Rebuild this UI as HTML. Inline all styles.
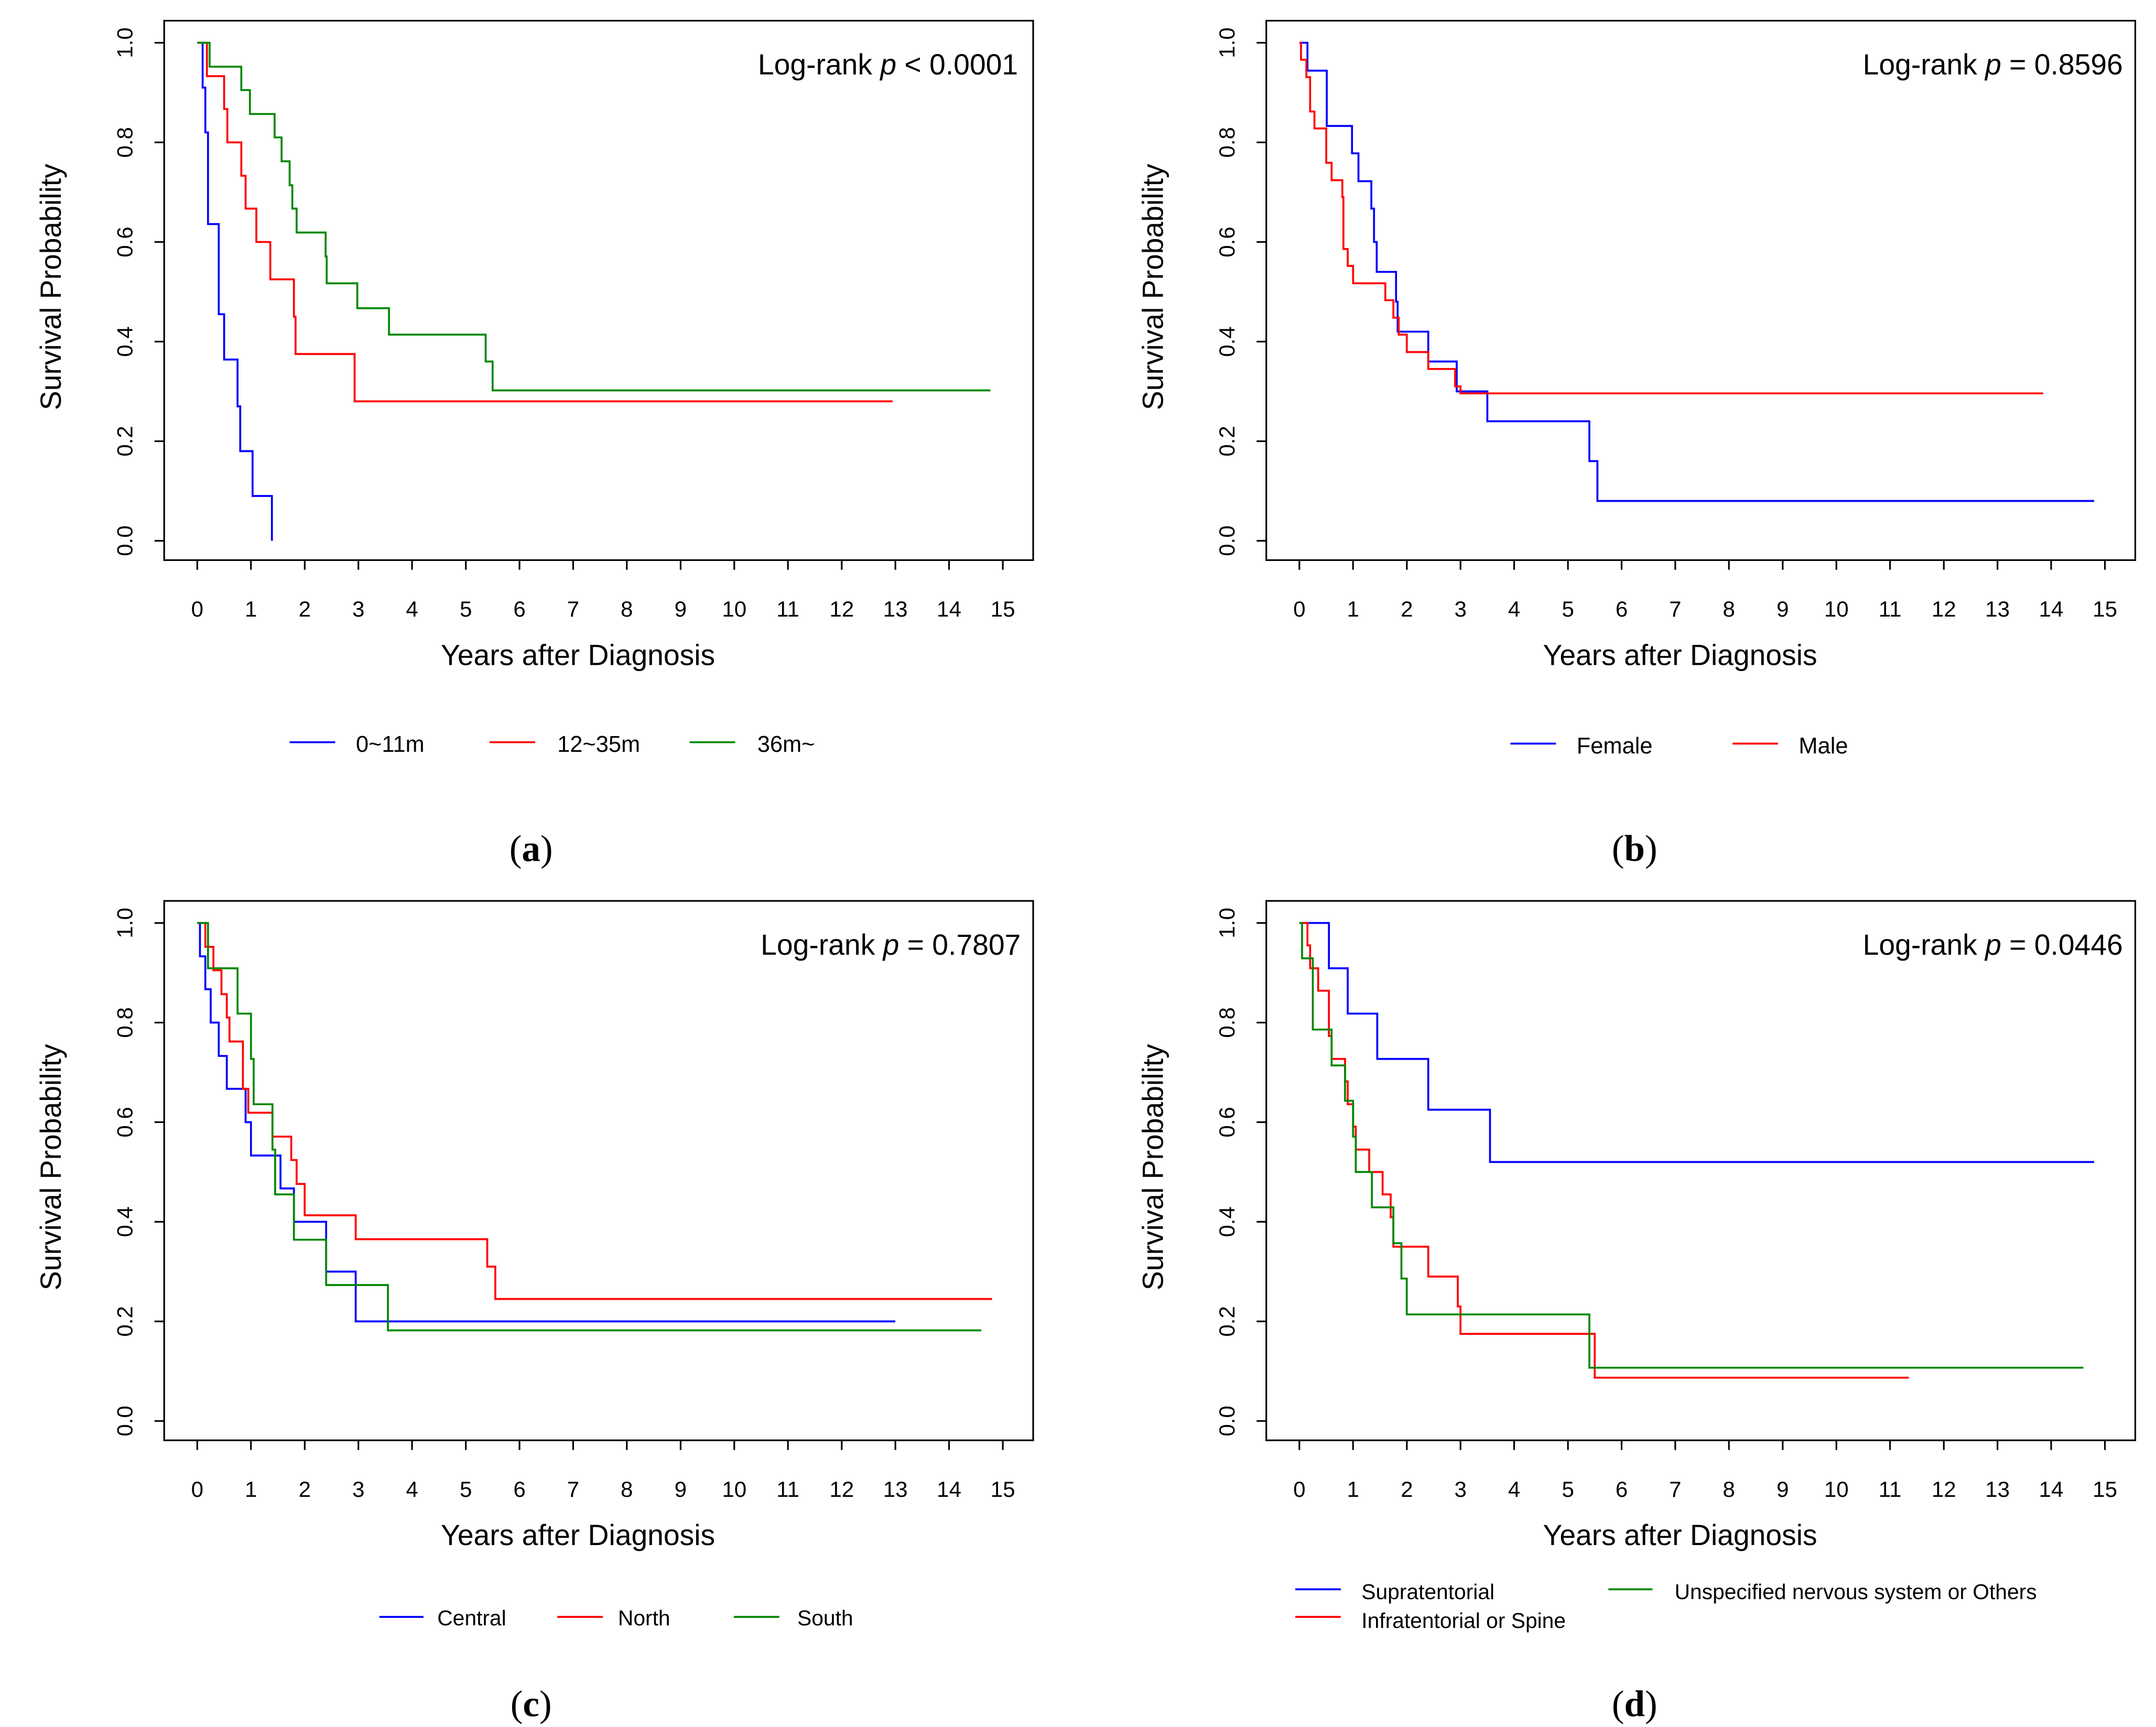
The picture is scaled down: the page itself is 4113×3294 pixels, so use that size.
<!DOCTYPE html>
<html><head><meta charset="utf-8"><style>
html,body{margin:0;padding:0;background:#fff}
svg{display:block}
text{font-family:"Liberation Sans",Arial,sans-serif;fill:#000}
.t{font-size:16px}
.ax{font-size:21px}
.lg{font-size:16.5px}
.lab{font-family:"Liberation Serif",serif;font-size:27px}
.c path{fill:none;stroke-width:3.7;vector-effect:non-scaling-stroke}
</style></head><body>
<svg width="4113" height="3294" viewBox="0 0 1563 1251.8" xmlns="http://www.w3.org/2000/svg">
<defs>
<g id="frame">
<rect x="119" y="15" width="630" height="391" fill="none" stroke="#000" stroke-width="1.2"/>
<path d="M143 406v7M181.9 406v7M220.9 406v7M259.8 406v7M298.7 406v7M337.7 406v7M376.6 406v7M415.5 406v7M454.4 406v7M493.4 406v7M532.3 406v7M571.2 406v7M610.2 406v7M649.1 406v7M688 406v7M727 406v7M119 392h-7M119 319.8h-7M119 247.6h-7M119 175.4h-7M119 103.2h-7M119 31h-7" stroke="#000" stroke-width="1.2"/>
<g class="t" text-anchor="middle">
<text x="143" y="447">0</text><text x="181.9" y="447">1</text><text x="220.9" y="447">2</text><text x="259.8" y="447">3</text><text x="298.7" y="447">4</text><text x="337.7" y="447">5</text><text x="376.6" y="447">6</text><text x="415.5" y="447">7</text><text x="454.4" y="447">8</text><text x="493.4" y="447">9</text><text x="532.3" y="447">10</text><text x="571.2" y="447">11</text><text x="610.2" y="447">12</text><text x="649.1" y="447">13</text><text x="688" y="447">14</text><text x="727" y="447">15</text>
<text transform="translate(96 392) rotate(-90)">0.0</text>
<text transform="translate(96 319.8) rotate(-90)">0.2</text>
<text transform="translate(96 247.6) rotate(-90)">0.4</text>
<text transform="translate(96 175.4) rotate(-90)">0.6</text>
<text transform="translate(96 103.2) rotate(-90)">0.8</text>
<text transform="translate(96 31) rotate(-90)">1.0</text>
</g>
<text class="ax" x="419" y="482" text-anchor="middle">Years after Diagnosis</text>
<text class="ax" transform="translate(44 208) rotate(-90)" text-anchor="middle">Survival Probability</text>
</g>
</defs>

<!-- (a) -->
<g>
<use href="#frame"/>
<text class="ax" x="738" y="54" text-anchor="end">Log-rank <tspan font-style="italic">p</tspan> &lt; 0.0001</text>
<g class="c" transform="translate(143 392) scale(38.93 -361)">
<path stroke="#00f" d="M0 1H0.1V0.91H0.15V0.82H0.2V0.636H0.4V0.455H0.5V0.364H0.75V0.27H0.8V0.18H1.03V0.09H1.39V0"/>
<path stroke="#f00" d="M0 1H0.18V0.933H0.5V0.867H0.56V0.8H0.82V0.733H0.9V0.667H1.1V0.6H1.36V0.525H1.8V0.45H1.83V0.375H2.93V0.28H12.95"/>
<path stroke="#080" d="M0 1H0.23V0.952H0.82V0.905H0.98V0.857H1.44V0.81H1.57V0.762H1.72V0.714H1.77V0.667H1.85V0.619H2.39V0.571H2.41V0.517H2.98V0.467H3.57V0.414H5.37V0.36H5.5V0.302H14.77"/>
</g>
<path d="M210 538h33" stroke="#00f" stroke-width="1.4"/><path d="M355 538h33" stroke="#f00" stroke-width="1.4"/><path d="M500 538h33" stroke="#080" stroke-width="1.4"/>
<text class="lg" x="258" y="545">0~11m</text><text class="lg" x="404" y="545">12~35m</text><text class="lg" x="549" y="545">36m~</text>
<text class="lab" x="385" y="624" text-anchor="middle">(<tspan font-weight="bold">a</tspan>)</text>
</g>

<!-- (b) -->
<g transform="translate(799 0)">
<use href="#frame"/>
<text class="ax" x="740" y="54" text-anchor="end">Log-rank <tspan font-style="italic">p</tspan> = 0.8596</text>
<g class="c" transform="translate(143 392) scale(38.93 -361)">
<path stroke="#00f" d="M0 1H0.15V0.944H0.51V0.833H0.98V0.778H1.1V0.722H1.34V0.667H1.39V0.6H1.44V0.54H1.8V0.48H1.83V0.42H2.4V0.36H2.93V0.30H3.5V0.24H5.4V0.16H5.55V0.08H14.8"/>
<path stroke="#f00" d="M0 1H0.03V0.966H0.13V0.931H0.2V0.862H0.28V0.828H0.5V0.759H0.6V0.724H0.8V0.69H0.82V0.586H0.9V0.552H1.0V0.517H1.6V0.483H1.75V0.448H1.85V0.414H2.0V0.379H2.4V0.345H2.9V0.31H3.0V0.296H13.85"/>
</g>
<path d="M296 539h33" stroke="#00f" stroke-width="1.4"/><path d="M457 539h33" stroke="#f00" stroke-width="1.4"/>
<text class="lg" x="344" y="546">Female</text><text class="lg" x="505" y="546">Male</text>
<text class="lab" x="386" y="624" text-anchor="middle">(<tspan font-weight="bold">b</tspan>)</text>
</g>

<!-- (c) -->
<g transform="translate(0 638)">
<use href="#frame"/>
<text class="ax" x="740" y="54" text-anchor="end">Log-rank <tspan font-style="italic">p</tspan> = 0.7807</text>
<g class="c" transform="translate(143 392) scale(38.93 -361)">
<path stroke="#00f" d="M0 1H0.05V0.933H0.15V0.867H0.25V0.8H0.4V0.733H0.55V0.667H0.9V0.6H1.0V0.533H1.55V0.467H1.8V0.4H2.4V0.3H2.95V0.2H13"/>
<path stroke="#f00" d="M0 1H0.15V0.952H0.3V0.905H0.45V0.857H0.55V0.81H0.6V0.762H0.85V0.667H0.95V0.619H1.4V0.571H1.75V0.524H1.85V0.476H2.0V0.413H2.95V0.365H5.4V0.31H5.55V0.245H14.8"/>
<path stroke="#080" d="M0 1H0.2V0.909H0.75V0.818H1.0V0.727H1.05V0.636H1.4V0.545H1.45V0.455H1.8V0.364H2.4V0.273H3.55V0.182H14.6"/>
</g>
<path d="M275 534h32" stroke="#00f" stroke-width="1.4"/><path d="M404 534h33" stroke="#f00" stroke-width="1.4"/><path d="M532 534h33" stroke="#080" stroke-width="1.4"/>
<text x="317" y="540" font-size="15.5">Central</text><text x="448" y="540" font-size="15.5">North</text><text x="578" y="540" font-size="15.5">South</text>
<text class="lab" x="385" y="606" text-anchor="middle">(<tspan font-weight="bold">c</tspan>)</text>
</g>

<!-- (d) -->
<g transform="translate(799 638)">
<use href="#frame"/>
<text class="ax" x="740" y="54" text-anchor="end">Log-rank <tspan font-style="italic">p</tspan> = 0.0446</text>
<g class="c" transform="translate(143 392) scale(38.93 -361)">
<path stroke="#00f" d="M0 1H0.55V0.909H0.9V0.818H1.45V0.727H2.4V0.625H3.55V0.52H14.8"/>
<path stroke="#f00" d="M0 1H0.15V0.955H0.2V0.909H0.35V0.864H0.55V0.773H0.6V0.727H0.85V0.682H0.9V0.636H1.0V0.591H1.05V0.545H1.3V0.5H1.55V0.455H1.7V0.409H1.75V0.35H2.4V0.29H2.95V0.23H3.0V0.175H5.5V0.087H11.35"/>
<path stroke="#080" d="M0 1H0.05V0.929H0.25V0.786H0.6V0.714H0.85V0.643H1.0V0.571H1.05V0.5H1.35V0.429H1.75V0.357H1.9V0.286H2.0V0.214H5.4V0.107H14.6"/>
</g>
<path d="M140 514h33" stroke="#00f" stroke-width="1.4"/><path d="M140 534h33" stroke="#f00" stroke-width="1.4"/><path d="M367 514h32" stroke="#080" stroke-width="1.4"/>
<text x="188" y="521" font-size="15.5">Supratentorial</text><text x="188" y="542" font-size="15.5">Infratentorial or Spine</text><text x="415" y="521" font-size="15.5">Unspecified nervous system or Others</text>
<text class="lab" x="386" y="606" text-anchor="middle">(<tspan font-weight="bold">d</tspan>)</text>
</g>
</svg>
</body></html>
